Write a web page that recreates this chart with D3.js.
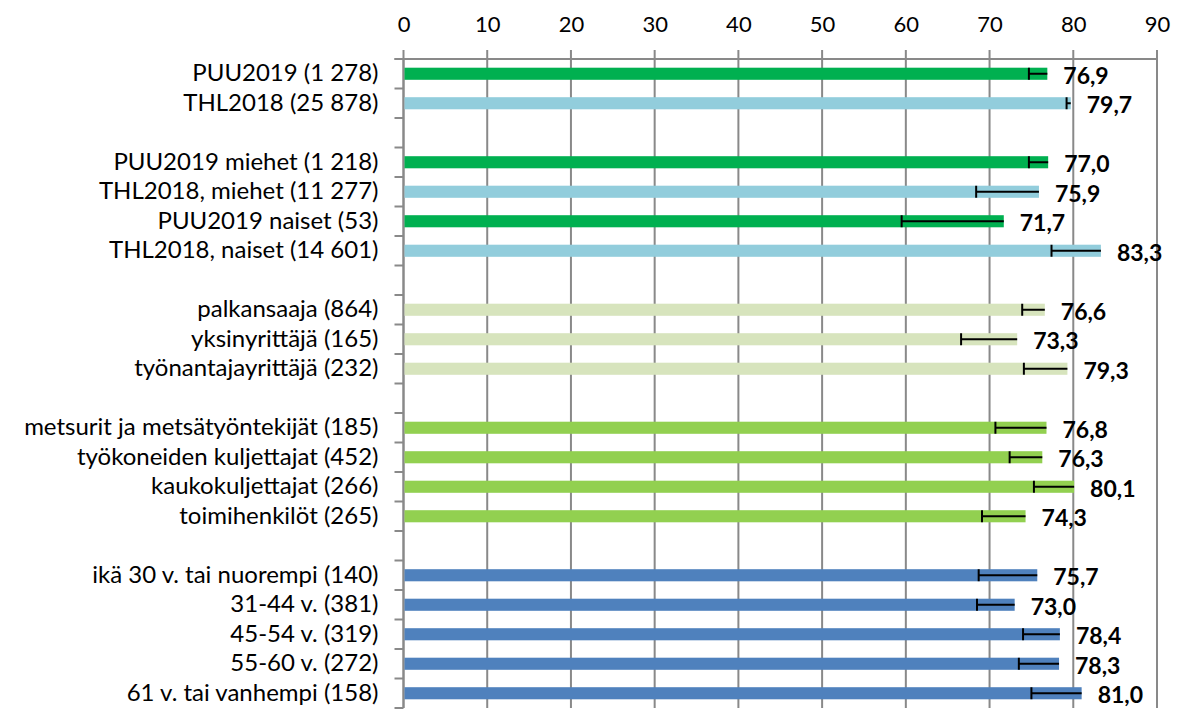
<!DOCTYPE html>
<html>
<head>
	<meta charset="utf-8">
	<title>Bars</title>
	<script src="https://cdn.jsdelivr.net/npm/d3@7"></script>
	<style>
		body { margin: 0; background: #fff; font-family: Lato, "Open Sans", sans-serif; }
	</style>
</head>
<body>
	<div id="chart"></div>
	<script>

		// data ("" marks an empty spacer row)
		const categories = [
			"PUU2019 (1 278)", "THL2018 (25 878)", "",
			"PUU2019 miehet (1 218)", "THL2018, miehet (11 277)", "PUU2019 naiset (53)", "THL2018, naiset (14 601)", "",
			"palkansaaja (864)", "yksinyrittäjä (165)", "työnantajayrittäjä (232)", "",
			"metsurit ja metsätyöntekijät (185)", "työkoneiden kuljettajat (452)", "kaukokuljettajat (266)", "toimihenkilöt (265)", "",
			"ikä 30 v. tai nuorempi (140)", "31-44 v. (381)", "45-54 v. (319)", "55-60 v. (272)", "61 v. tai vanhempi (158)"
		];
		const values = [
			76.9, 79.7, null,
			77.0, 75.9, 71.7, 83.3, null,
			76.6, 73.3, 79.3, null,
			76.8, 76.3, 80.1, 74.3, null,
			75.7, 73.0, 78.4, 78.3, 81.0
		];
		const lowerCI = [
			74.7, 79.2, null,
			74.7, 68.4, 59.5, 77.4, null,
			73.9, 66.6, 74.1, null,
			70.7, 72.4, 75.3, 69.1, null,
			68.7, 68.5, 74.0, 73.5, 75.0
		];
		const groups = [
			"PUU", "THL", null,
			"PUU", "THL", "PUU", "THL", null,
			"asema", "asema", "asema", null,
			"ammatti", "ammatti", "ammatti", "ammatti", null,
			"ika", "ika", "ika", "ika", "ika"
		];
		const groupNames  = ["PUU", "THL", "asema", "ammatti", "ika"];
		const groupColors = ["#00B050", "#92CDDC", "#D7E4BD", "#92D050", "#4F81BD"];
		const xTicks = d3.range(0, 91, 10);

		const width = 1178;
		const height = 711;
		const marginTop = 59;
		const marginBottom = 3;
		const marginLeft = 403.5;
		const marginRight = 21;

		const idx = d3.range(categories.length);
		const x = d3.scaleLinear([0, 90], [marginLeft, width - marginRight]);
		const y = d3.scaleBand(idx, [marginTop, height - marginBottom]).padding(0);
		const color = d3.scaleOrdinal(groupNames, groupColors);
		const barH = y.bandwidth() * 0.41;
		const fmt = v => d3.format(".1f")(v).replace(".", ",");

		const svg = d3.select("#chart").append("svg")
			.attr("width", width)
			.attr("height", height)
			.attr("viewBox", [0, 0, width, height]);

		const gridColor = "#898989";

		// vertical gridlines
		svg.append("g")
			.selectAll("line")
			.data(xTicks)
			.join("line")
			.attr("x1", d => x(d)).attr("x2", d => x(d))
			.attr("y1", marginTop - 9).attr("y2", height - marginBottom)
			.attr("stroke", gridColor)
			.attr("stroke-width", 2);

		// top axis labels
		svg.append("g")
			.attr("transform", `translate(0,${marginTop})`)
			.call(d3.axisTop(x).tickValues(xTicks).tickSize(0).tickPadding(27))
			.call(g => g.select(".domain").remove())
			.call(g => g.selectAll("text")
				.attr("fill", "#000")
				.style("font-family", "Lato, sans-serif")
				.style("font-size", "22px"));

		// top horizontal line
		svg.append("line")
			.attr("x1", marginLeft - 9).attr("x2", x(90))
			.attr("y1", marginTop).attr("y2", marginTop)
			.attr("stroke", gridColor).attr("stroke-width", 2);

		// left axis line and boundary ticks
		svg.append("line")
			.attr("x1", marginLeft).attr("x2", marginLeft)
			.attr("y1", marginTop).attr("y2", height - marginBottom)
			.attr("stroke", gridColor).attr("stroke-width", 2);

		svg.append("g")
			.selectAll("line")
			.data(idx.concat([categories.length]))
			.join("line")
			.attr("x1", marginLeft - 9).attr("x2", marginLeft)
			.attr("y1", i => i < categories.length ? y(i) : y(i - 1) + y.bandwidth())
			.attr("y2", i => i < categories.length ? y(i) : y(i - 1) + y.bandwidth())
			.attr("stroke", gridColor).attr("stroke-width", 2);

		// category labels
		svg.append("g")
			.attr("transform", `translate(${marginLeft},0)`)
			.call(d3.axisLeft(y).tickSize(0).tickPadding(25).tickFormat(i => categories[i]))
			.call(g => g.select(".domain").remove())
			.call(g => g.selectAll("text")
				.attr("fill", "#000")
				.style("font-family", "Lato, sans-serif")
				.style("font-size", "24px"));

		const rows = idx.filter(i => values[i] != null);

		// bars
		svg.append("g")
			.selectAll("rect")
			.data(rows)
			.join("rect")
			.attr("x", x(0) + 1)
			.attr("y", i => y(i) + y.bandwidth() / 2 - barH / 2)
			.attr("width", i => x(values[i]) - x(0) - 1)
			.attr("height", barH)
			.attr("fill", i => color(groups[i]));

		// error bars (minus direction only)
		const err = svg.append("g")
			.attr("stroke", "#000")
			.attr("stroke-width", 2);

		err.selectAll("line.stem")
			.data(rows)
			.join("line")
			.attr("class", "stem")
			.attr("x1", i => x(lowerCI[i])).attr("x2", i => x(values[i]))
			.attr("y1", i => y(i) + y.bandwidth() / 2)
			.attr("y2", i => y(i) + y.bandwidth() / 2);

		err.selectAll("line.cap")
			.data(rows)
			.join("line")
			.attr("class", "cap")
			.attr("x1", i => x(lowerCI[i])).attr("x2", i => x(lowerCI[i]))
			.attr("y1", i => y(i) + y.bandwidth() / 2 - 6)
			.attr("y2", i => y(i) + y.bandwidth() / 2 + 6);

		// value labels
		svg.append("g")
			.selectAll("text")
			.data(rows)
			.join("text")
			.attr("x", i => x(values[i]) + 16)
			.attr("y", i => y(i) + y.bandwidth() / 2 + 2)
			.attr("dy", "0.35em")
			.style("font-family", "Lato, sans-serif")
			.style("font-size", "23px")
			.style("font-weight", "bold")
			.attr("fill", "#000")
			.text(i => fmt(values[i]));

	</script>
</body>
</html>
